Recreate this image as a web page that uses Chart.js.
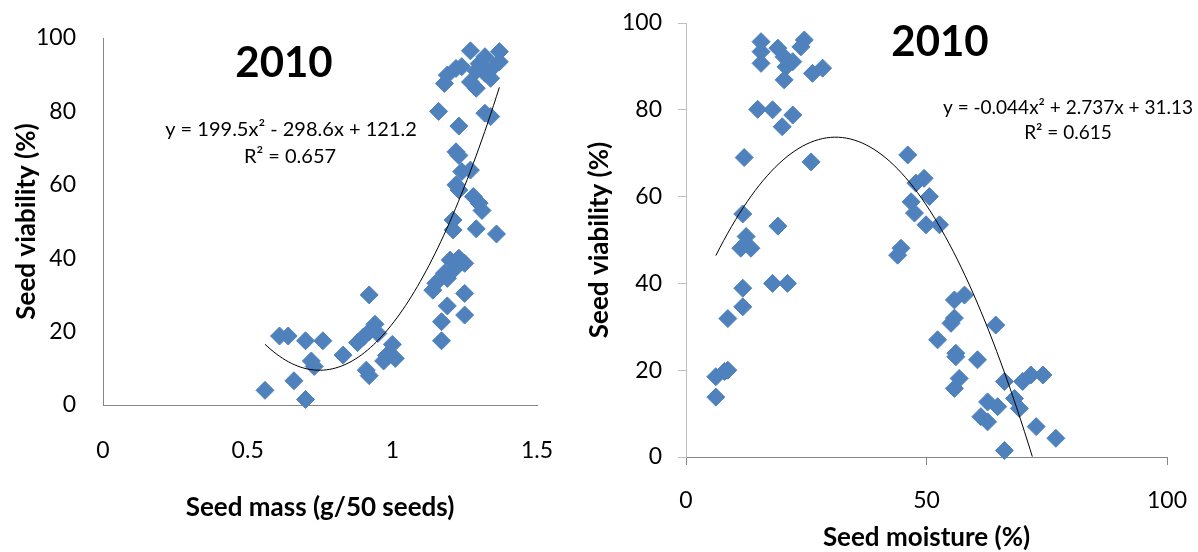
<!DOCTYPE html>
<html>
<head>
<meta charset="utf-8">
<script src="https://cdn.jsdelivr.net/npm/chart.js@4.4.1/dist/chart.umd.min.js"></script>
<style>
  body { margin: 0; background: #fff; }
  #wrap { position: relative; width: 1198px; height: 552px; }
  canvas { position: absolute; top: 0; }
</style>
</head>
<body>
<div id="wrap">
  <canvas id="massChart" width="580" height="552" style="left:0"></canvas>
  <canvas id="moistChart" width="618" height="552" style="left:580px"></canvas>
</div>
<script>
// seed mass (g/50 seeds) vs viability (%)
var massX = [0.56, 0.66, 0.70, 0.61, 0.64, 0.70, 0.76, 0.72, 0.73, 0.83,
             0.91, 0.92, 0.92, 0.88, 0.90, 0.92, 0.94, 0.95, 0.97, 0.98,
             1.00, 1.01,
             1.16, 1.23, 1.22, 1.23, 1.24, 1.27, 1.22, 1.23, 1.28, 1.30,
             1.31, 1.21, 1.21, 1.29, 1.36, 1.20, 1.23, 1.21, 1.18, 1.15,
             1.14, 1.19, 1.25, 1.22, 1.25, 1.19, 1.25, 1.17, 1.17,
             1.27, 1.37, 1.19, 1.18, 1.22, 1.24, 1.27, 1.29, 1.32, 1.35,
             1.37, 1.34, 1.32, 1.30, 1.29, 1.32, 1.34];
var massY = [4, 6.6, 1.5, 18.8, 18.8, 17.5, 17.5, 12, 10.5, 13.6,
             9.5, 8, 30, 17, 18.5, 20, 22, 19.5, 12, 13.5,
             16.5, 12.7,
             80, 76, 69, 68, 63.6, 64, 60, 58.6, 56.8, 55,
             53, 50.4, 47.7, 48, 46.6, 39.5, 40, 36.8, 35.9, 33.2,
             31.3, 34.5, 38.6, 37.5, 30.4, 27, 24.5, 22.7, 17.5,
             96.5, 96.3, 89.9, 87.6, 91.7, 92.2, 88, 86.3, 90.4, 92.2,
             93.5, 89, 94.9, 93, 91, 79.5, 78.6];

// seed moisture (%) vs viability (%)
var moistX = [15.6, 15.6, 15.6, 19.1, 20.4, 22.2, 20.8, 20.4, 24.6, 23.9,
              26.3, 28.4, 14.9, 18.0, 22.2, 20.0, 12.1, 26.0, 11.8, 19.1,
              12.5, 11.4, 13.5, 11.8, 11.8, 8.7, 18.0, 21.1, 6.2, 8.0,
              8.7, 6.2,
              46.1, 47.8, 49.5, 50.6, 46.8, 47.5, 49.9, 52.7, 44.7, 44.0,
              55.8, 57.9, 55.8, 55.1, 64.4, 52.3, 56.1, 56.1, 60.6, 56.8,
              55.8, 66.2, 70.0, 71.7, 74.2, 68.3, 69.3, 62.7, 64.8, 61.3,
              62.7, 72.8, 76.9, 66.2];
var moistY = [95.7, 93.4, 90.7, 94.2, 92.2, 91.1, 89.9, 86.9, 96.1, 94.5,
              88.4, 89.6, 80.1, 80.0, 78.8, 76.1, 69.0, 68.0, 56.0, 53.2,
              50.8, 48.1, 48.1, 38.9, 34.6, 31.9, 40.0, 40.0, 18.5, 19.7,
              20.0, 13.8,
              69.6, 63.1, 64.2, 60.0, 58.8, 56.2, 53.5, 53.5, 48.1, 46.5,
              36.2, 37.3, 32.0, 30.8, 30.4, 27.0, 23.9, 23.1, 22.4, 18.1,
              15.8, 17.4, 17.4, 18.9, 18.9, 13.5, 11.2, 12.7, 11.6, 9.3,
              8.1, 7.0, 4.3, 1.5];

// fitted trendlines as printed on the chart: a*x^2 + b*x + c
var massFit = [199.5, -298.6, 121.2];
var massFitRange = [0.56, 1.37];
var moistFit = [-0.044, 2.737, 31.13];
var moistFitRange = [6.2, 72];

function toPoints(xs, ys) {
  return xs.map(function (x, i) { return { x: x, y: ys[i] }; });
}

function curve(fit, range) {
  var pts = [];
  var n = 80;
  for (var i = 0; i <= n; i++) {
    var x = range[0] + (range[1] - range[0]) * i / n;
    var y = fit[0] * x * x + fit[1] * x + fit[2];
    if (y >= 0) pts.push({ x: x, y: y });
  }
  return pts;
}

var notes = {
  id: 'notes',
  afterDraw: function (chart, args, opts) {
    var ctx = chart.ctx;
    ctx.save();
    ctx.fillStyle = '#000';
    ctx.textAlign = 'center';
    ctx.textBaseline = 'middle';
    opts.items.forEach(function (t) {
      ctx.font = t.font;
      ctx.fillText(t.text, t.x, t.y);
    });
    ctx.restore();
  }
};

var blue = '#4F81BD';
var tickFont = { family: 'Lato', size: 23 };
var titleFont = { family: 'Lato', size: 26, weight: 'bold', lineHeight: 1 };
var plainNum = function (v) { return String(v); };

// fixed axis box size; drop the label padding chart.js adds at the ends
function fixX(h) {
  return function (s) { s.height = h; s.paddingLeft = 0; s.paddingRight = 0; };
}
function fixY(w) {
  return function (s) { s.width = w; s.paddingTop = 0; s.paddingBottom = 0; };
}

function datasets(xs, ys, fit, range) {
  return [{
    data: curve(fit, range),
    showLine: true,
    borderColor: '#000',
    borderWidth: 1,
    pointRadius: 0,
    fill: false,
    order: 0
  }, {
    data: toPoints(xs, ys),
    pointStyle: 'rectRot',
    pointRadius: 9,
    backgroundColor: blue,
    borderColor: blue,
    borderWidth: 1,
    clip: false,
    order: 1
  }];
}

new Chart(document.getElementById('massChart').getContext('2d'), {
  type: 'scatter',
  data: { datasets: datasets(massX, massY, massFit, massFitRange) },
  options: {
    responsive: false,
    animation: false,
    layout: { padding: { left: 0, top: 38, right: 43, bottom: 0 } },
    plugins: {
      legend: { display: false },
      tooltip: { enabled: false },
      notes: {
        items: [
          { text: '2010', x: 284, y: 63, font: 'bold 42px Lato' },
          { text: 'y = 199.5x² - 298.6x + 121.2', x: 291, y: 130, font: '20px Lato' },
          { text: 'R² = 0.657', x: 290, y: 157, font: '20px Lato' }
        ]
      }
    },
    scales: {
      x: {
        min: 0, max: 1.5,
        ticks: { stepSize: 0.5, font: tickFont, color: '#000', padding: 32, callback: plainNum },
        grid: { display: false, drawTicks: false },
        border: { color: '#868686', width: 1 },
        title: { display: true, text: 'Seed mass (g/50 seeds)', font: titleFont, color: '#000',
                 padding: { top: 0, bottom: 31 } },
        afterFit: fixX(147)
      },
      y: {
        min: 0, max: 100,
        ticks: { stepSize: 20, font: tickFont, color: '#000', padding: 27 },
        grid: { display: false, drawTicks: false },
        border: { color: '#868686', width: 1 },
        title: { display: true, text: 'Seed viability (%)', font: titleFont, color: '#000',
                 padding: { top: 14, bottom: 0 } },
        afterFit: fixY(103)
      }
    }
  },
  plugins: [notes]
});

new Chart(document.getElementById('moistChart').getContext('2d'), {
  type: 'scatter',
  data: { datasets: datasets(moistX, moistY, moistFit, moistFitRange) },
  options: {
    responsive: false,
    animation: false,
    layout: { padding: { left: 0, top: 23, right: 31, bottom: 0 } },
    plugins: {
      legend: { display: false },
      tooltip: { enabled: false },
      notes: {
        items: [
          { text: '2010', x: 360, y: 42, font: 'bold 42px Lato' },
          { text: 'y = -0.044x² + 2.737x + 31.13', x: 488, y: 108, font: '19px Lato' },
          { text: 'R² = 0.615', x: 488, y: 133, font: '19px Lato' }
        ]
      }
    },
    scales: {
      x: {
        min: 0, max: 100,
        ticks: { stepSize: 50, font: tickFont, color: '#000', padding: 22, callback: plainNum },
        grid: { display: true, drawOnChartArea: false, drawTicks: true, tickLength: 8, color: '#868686' },
        border: { color: '#868686', width: 1 },
        title: { display: true, text: 'Seed moisture (%)', font: titleFont, color: '#000',
                 padding: { top: 0, bottom: 1 } },
        afterFit: fixX(95)
      },
      y: {
        min: 0, max: 100,
        ticks: { stepSize: 20, font: tickFont, color: '#000', padding: 16 },
        grid: { display: true, drawOnChartArea: false, drawTicks: true, tickLength: 8, color: '#bfbfbf' },
        border: { color: '#bfbfbf', width: 1 },
        title: { display: true, text: 'Seed viability (%)', font: titleFont, color: '#000',
                 padding: { top: 7, bottom: 0 } },
        afterFit: fixY(106)
      }
    }
  },
  plugins: [notes]
});
</script>
</body>
</html>
